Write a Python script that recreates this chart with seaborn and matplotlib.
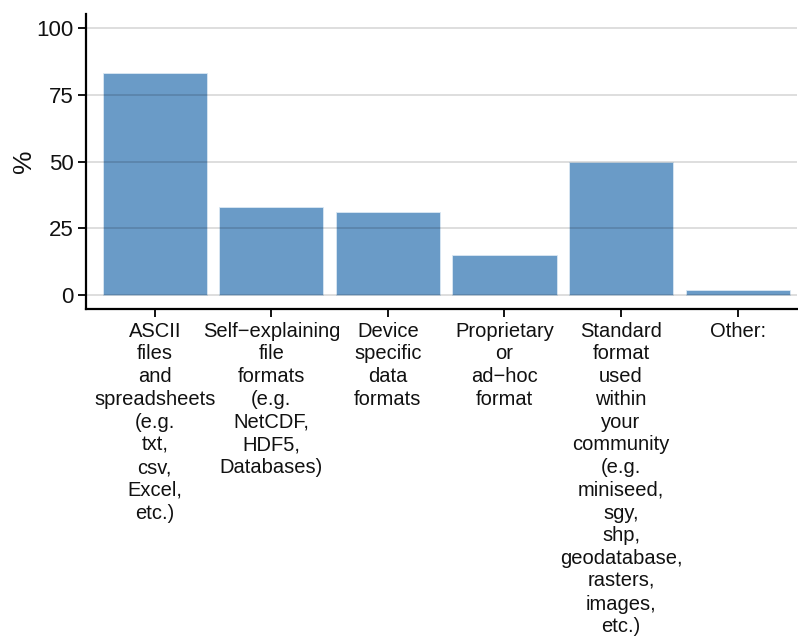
import matplotlib
matplotlib.use("Agg")
import matplotlib.pyplot as plt
import seaborn as sns

categories = [
    "ASCII\nfiles\nand\nspreadsheets\n(e.g.\ntxt,\ncsv,\nExcel,\netc.)",
    "Self\u2212explaining\nfile\nformats\n(e.g.\nNetCDF,\nHDF5,\nDatabases)",
    "Device\nspecific\ndata\nformats",
    "Proprietary\nor\nad\u2212hoc\nformat",
    "Standard\nformat\nused\nwithin\nyour\ncommunity\n(e.g.\nminiseed,\nsgy,\nshp,\ngeodatabase,\nrasters,\nimages,\netc.)",
    "Other:",
]
percent = [83, 33, 31, 15, 50, 2]
y_ticks = [0, 25, 50, 75, 100]

sns.set_style("white")
plt.rcParams["font.family"] = ["Liberation Sans", "DejaVu Sans"]

fig = plt.figure(figsize=(7.98, 6.39), dpi=100)
ax = fig.add_axes([0.1078, 0.5164, 0.891, 0.4616])

sns.barplot(x=categories, y=percent, color="#6a9bc7", saturation=1,
            width=0.893, edgecolor="#dbe8f3", linewidth=0.6, ax=ax)

ax.set_xlim(-0.59, 5.51)
ax.set_ylim(-5.2, 105.2)
ax.set_yticks(y_ticks)
ax.set_yticklabels([str(t) for t in y_ticks])

# grid sits on top of the bars, like in the original
for t in y_ticks:
    ax.axhline(t, color="black", alpha=0.17, linewidth=1.1, zorder=5)

for side in ["top", "right"]:
    ax.spines[side].set_visible(False)
for side in ["left", "bottom"]:
    ax.spines[side].set_linewidth(1.6)
    ax.spines[side].set_color("black")

ax.tick_params(axis="both", which="major", length=6, width=1.3,
               color="black", labelcolor="#111111",
               direction="out", left=True, bottom=True)
ax.tick_params(axis="x", pad=3, labelsize=14.5)
ax.tick_params(axis="y", pad=3, labelsize=16)
for lab in ax.get_xticklabels():
    lab.set_horizontalalignment("center")
    lab.set_multialignment("center")
    lab.set_linespacing(1.25)

ax.set_xlabel("")
ax.set_ylabel("%", fontsize=19, color="#111111", labelpad=0)

fig.savefig("out.png", dpi=100)
